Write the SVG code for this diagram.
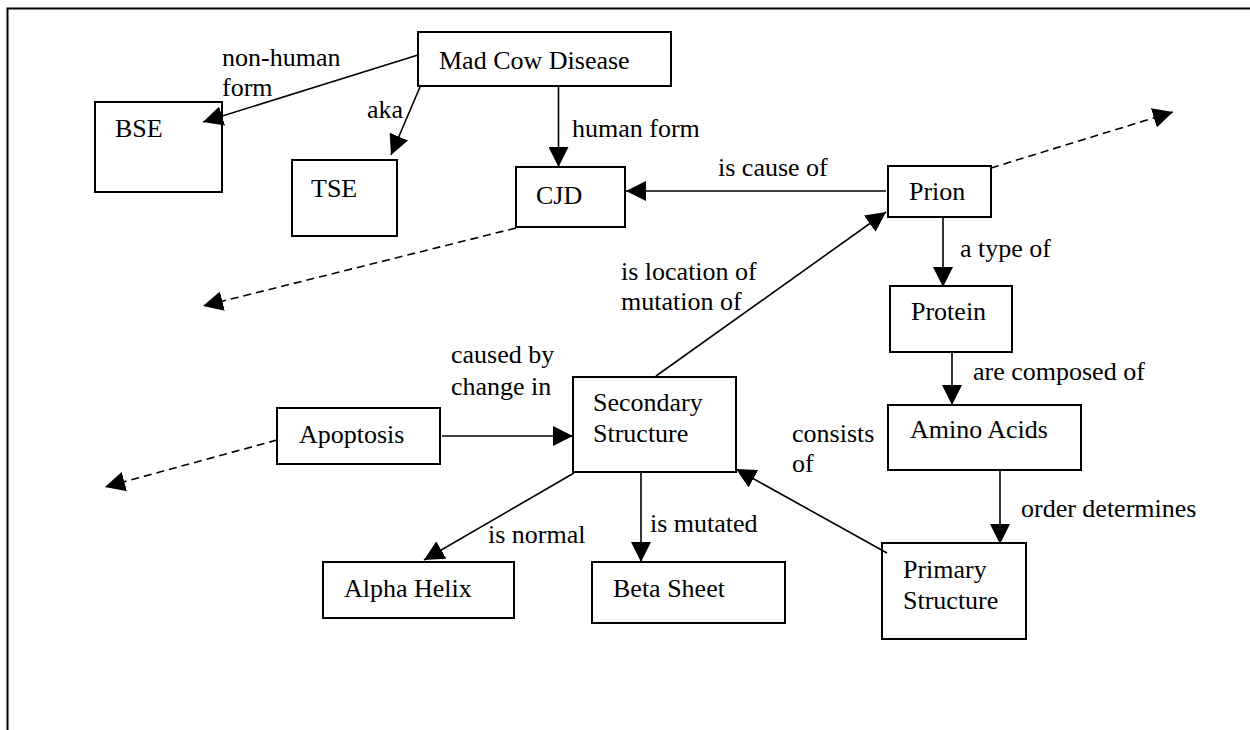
<svg xmlns="http://www.w3.org/2000/svg" width="1250" height="730" viewBox="0 0 1250 730">
<style>
  .box{fill:#fff;stroke:#000;stroke-width:2}
  .t{font-family:'Liberation Serif','DejaVu Serif',serif;font-size:26px;fill:#000}
  .c{fill:none;stroke:#000;stroke-width:1.6}
  .d{fill:none;stroke:#000;stroke-width:1.6;stroke-dasharray:8 5}
</style>
<defs>
  <marker id="ah" markerUnits="userSpaceOnUse" markerWidth="20" markerHeight="20" refX="20" refY="10" orient="auto" viewBox="0 0 20 20">
    <path d="M0,0 L20,10 L0,20 z" fill="#000"/>
  </marker>
</defs>
<rect width="1250" height="730" fill="#fff"/>
<path d="M7.5,730 V8.5 H1250" fill="none" stroke="#000" stroke-width="2"/>

<g id="mad-cow"><rect class="box" x="418" y="32" width="253" height="54"/><text class="t" x="439" y="69">Mad Cow Disease</text></g>
<g id="bse"><rect class="box" x="95" y="102" width="127" height="90"/><text class="t" x="115" y="137">BSE</text></g>
<g id="tse"><rect class="box" x="292" y="160" width="105" height="76"/><text class="t" x="311" y="197">TSE</text></g>
<g id="cjd"><rect class="box" x="516" y="167" width="109" height="60"/><text class="t" x="536" y="204">CJD</text></g>
<g id="prion"><rect class="box" x="888" y="166" width="103" height="51"/><text class="t" x="909" y="200">Prion</text></g>
<g id="protein"><rect class="box" x="890" y="286" width="122" height="66"/><text class="t" x="911" y="320">Protein</text></g>
<g id="amino-acids"><rect class="box" x="888" y="405" width="193" height="65"/><text class="t" x="910" y="438">Amino Acids</text></g>
<g id="secondary-structure"><rect class="box" x="573" y="377" width="163" height="95"/><text class="t" x="593" y="411">Secondary</text><text class="t" x="593" y="442">Structure</text></g>
<g id="apoptosis"><rect class="box" x="277" y="408" width="163" height="56"/><text class="t" x="299" y="443">Apoptosis</text></g>
<g id="alpha-helix"><rect class="box" x="323" y="562" width="191" height="56"/><text class="t" x="344" y="597">Alpha Helix</text></g>
<g id="beta-sheet"><rect class="box" x="592" y="562" width="193" height="61"/><text class="t" x="613" y="597">Beta Sheet</text></g>
<g id="primary-structure"><rect class="box" x="882" y="543" width="144" height="96"/><text class="t" x="903" y="578">Primary</text><text class="t" x="903" y="609">Structure</text></g>

<g id="connectors">
  <line class="c" x1="418" y1="55" x2="203" y2="122" marker-end="url(#ah)"/>
  <line class="c" x1="420" y1="87" x2="391" y2="155" marker-end="url(#ah)"/>
  <line class="c" x1="558.5" y1="86" x2="558.5" y2="167" marker-end="url(#ah)"/>
  <line class="c" x1="886" y1="191" x2="626" y2="191" marker-end="url(#ah)"/>
  <line class="d" x1="516" y1="228" x2="203" y2="306" marker-end="url(#ah)"/>
  <line class="d" x1="991" y1="168" x2="1173" y2="112" marker-end="url(#ah)"/>
  <line class="d" x1="277" y1="440" x2="105" y2="487" marker-end="url(#ah)"/>
  <line class="c" x1="943" y1="217" x2="943" y2="287" marker-end="url(#ah)"/>
  <line class="c" x1="952" y1="352" x2="952" y2="405" marker-end="url(#ah)"/>
  <line class="c" x1="1000" y1="470" x2="1000" y2="544" marker-end="url(#ah)"/>
  <line class="c" x1="656" y1="376" x2="886" y2="212" marker-end="url(#ah)"/>
  <line class="c" x1="442" y1="436" x2="573" y2="436" marker-end="url(#ah)"/>
  <line class="c" x1="574" y1="473" x2="424" y2="560" marker-end="url(#ah)"/>
  <line class="c" x1="641" y1="472" x2="641" y2="562" marker-end="url(#ah)"/>
  <line class="c" x1="887" y1="553" x2="736" y2="469" marker-end="url(#ah)"/>
  <g id="labels">
    <text class="t" x="222" y="66">non-human</text>
    <text class="t" x="222" y="96">form</text>
    <text class="t" x="367" y="118">aka</text>
    <text class="t" x="572" y="137">human form</text>
    <text class="t" x="718" y="176">is cause of</text>
    <text class="t" x="621" y="280">is location of</text>
    <text class="t" x="621" y="310">mutation of</text>
    <text class="t" x="960" y="257">a type of</text>
    <text class="t" x="973" y="380">are composed of</text>
    <text class="t" x="451" y="363">caused by</text>
    <text class="t" x="451" y="395">change in</text>
    <text class="t" x="792" y="442">consists</text>
    <text class="t" x="792" y="472">of</text>
    <text class="t" x="1021" y="517">order determines</text>
    <text class="t" x="488" y="543">is normal</text>
    <text class="t" x="650" y="532">is mutated</text>
  </g>
</g>
</svg>
